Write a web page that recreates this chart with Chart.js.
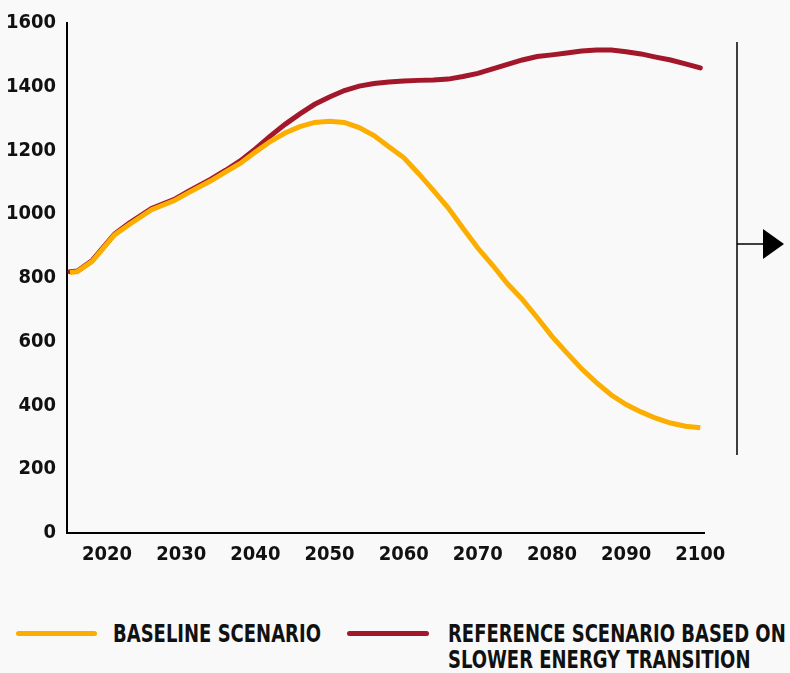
<!DOCTYPE html>
<html>
<head>
<meta charset="utf-8">
<script src="https://cdn.jsdelivr.net/npm/chart.js@4.4.1/dist/chart.umd.min.js"></script>
<style>
	html, body { margin: 0; padding: 0; background: #f9f9f9; }
	#wrap { position: relative; width: 790px; height: 673px; overflow: hidden; }
	#chart { position: absolute; left: 0; top: 0; }
	.legend { position: absolute; white-space: nowrap; font-family: 'DejaVu Sans Condensed', 'DejaVu Sans', sans-serif; font-weight: bold; font-size: 25px; line-height: 26px; color: #111; transform: scaleX(0.8); transform-origin: 0 0; }
	.mark { position: absolute; height: 5px; border-radius: 3px; }
</style>
</head>
<body>
<div id="wrap">
	<canvas id="chart" width="790" height="600"></canvas>
	<div class="mark" style="left:16px; top:631px; width:81px; background:#fbae00;"></div>
	<div class="legend" style="left:113px; top:621px;">BASELINE SCENARIO</div>
	<div class="mark" style="left:347px; top:631px; width:82px; background:#a3172a;"></div>
	<div class="legend" style="left:448px; top:621px;">REFERENCE SCENARIO BASED ON<br>SLOWER ENERGY TRANSITION</div>
</div>
<script>
'use strict';

var years = [2015, 2016, 2018, 2021, 2023, 2026, 2029, 2031, 2034, 2036, 2038, 2040, 2042, 2044, 2046, 2048, 2050, 2052, 2054, 2056, 2058, 2060, 2062, 2064, 2066, 2068, 2070, 2072, 2074, 2076, 2078, 2080, 2082, 2084, 2086, 2088, 2090, 2092, 2094, 2096, 2098, 2100];

var baseline = [817, 820, 852, 935, 968, 1014, 1042, 1068, 1105, 1133, 1160, 1195, 1228, 1255, 1275, 1288, 1292, 1288, 1272, 1247, 1212, 1178, 1128, 1075, 1020, 956, 894, 840, 782, 733, 676, 617, 565, 515, 472, 433, 403, 380, 360, 345, 335, 330];

var slower = [820, 822, 855, 938, 972, 1018, 1046, 1072, 1110, 1138, 1168, 1205, 1245, 1282, 1315, 1345, 1368, 1388, 1402, 1410, 1415, 1418, 1420, 1421, 1424, 1432, 1442, 1456, 1470, 1484, 1495, 1500, 1506, 1512, 1515, 1515, 1510, 1503, 1493, 1484, 1472, 1459];

var xTicks = [2020, 2030, 2040, 2050, 2060, 2070, 2080, 2090, 2100];
var yTicks = [0, 200, 400, 600, 800, 1000, 1200, 1400, 1600];

var tickFont = { family: "'DejaVu Sans Condensed', 'DejaVu Sans', sans-serif", weight: 'bold', size: 20 };

function toPoints(vals) {
	return years.map(function(y, i) { return { x: y, y: vals[i] }; });
}

// vertical bar with arrow on the right side
var arrowPlugin = {
	id: 'arrowMarker',
	afterDraw: function(chart) {
		var ctx = chart.ctx;
		ctx.save();
		ctx.strokeStyle = '#000';
		ctx.fillStyle = '#000';
		ctx.lineWidth = 1.5;
		ctx.beginPath();
		ctx.moveTo(737, 42);
		ctx.lineTo(737, 455);
		ctx.moveTo(737, 244);
		ctx.lineTo(765, 244);
		ctx.stroke();
		ctx.beginPath();
		ctx.moveTo(763, 229);
		ctx.lineTo(784, 244);
		ctx.lineTo(763, 259);
		ctx.closePath();
		ctx.fill();
		ctx.restore();
	}
};

var ctx = document.getElementById('chart').getContext('2d');
new Chart(ctx, {
	type: 'line',
	data: {
		datasets: [{
			label: 'BASELINE SCENARIO',
			data: toPoints(baseline),
			borderColor: '#fbae00',
			backgroundColor: '#fbae00',
			borderWidth: 5,
			pointRadius: 0,
			tension: 0
		}, {
			label: 'REFERENCE SCENARIO BASED ON SLOWER ENERGY TRANSITION',
			data: toPoints(slower),
			borderColor: '#a3172a',
			backgroundColor: '#a3172a',
			borderWidth: 5,
			borderCapStyle: 'round',
			pointRadius: 0,
			tension: 0
		}]
	},
	options: {
		responsive: false,
		animation: false,
		layout: {
			padding: { left: 0, right: 86, top: 22, bottom: 0 }
		},
		plugins: {
			legend: { display: false },
			tooltip: { enabled: false }
		},
		scales: {
			x: {
				type: 'linear',
				min: 2014.6,
				max: 2100.5,
				afterBuildTicks: function(scale) {
					scale.ticks = xTicks.map(function(v) { return { value: v }; });
				},
				afterFit: function(scale) { scale.height = 67; },
				grid: { display: false, drawTicks: false },
				border: { display: true, color: '#000', width: 2 },
				ticks: {
					color: '#111',
					padding: 10,
					maxRotation: 0,
					autoSkip: false,
					font: tickFont,
					callback: function(v) { return String(v); }
				}
			},
			y: {
				min: 0,
				max: 1600,
				afterBuildTicks: function(scale) {
					scale.ticks = yTicks.map(function(v) { return { value: v }; });
				},
				afterFit: function(scale) { scale.width = 67; },
				grid: { display: false, drawTicks: false },
				border: { display: true, color: '#000', width: 2 },
				ticks: {
					color: '#111',
					padding: 11,
					font: tickFont,
					callback: function(v) { return String(v); }
				}
			}
		}
	},
	plugins: [arrowPlugin]
});
</script>
</body>
</html>
